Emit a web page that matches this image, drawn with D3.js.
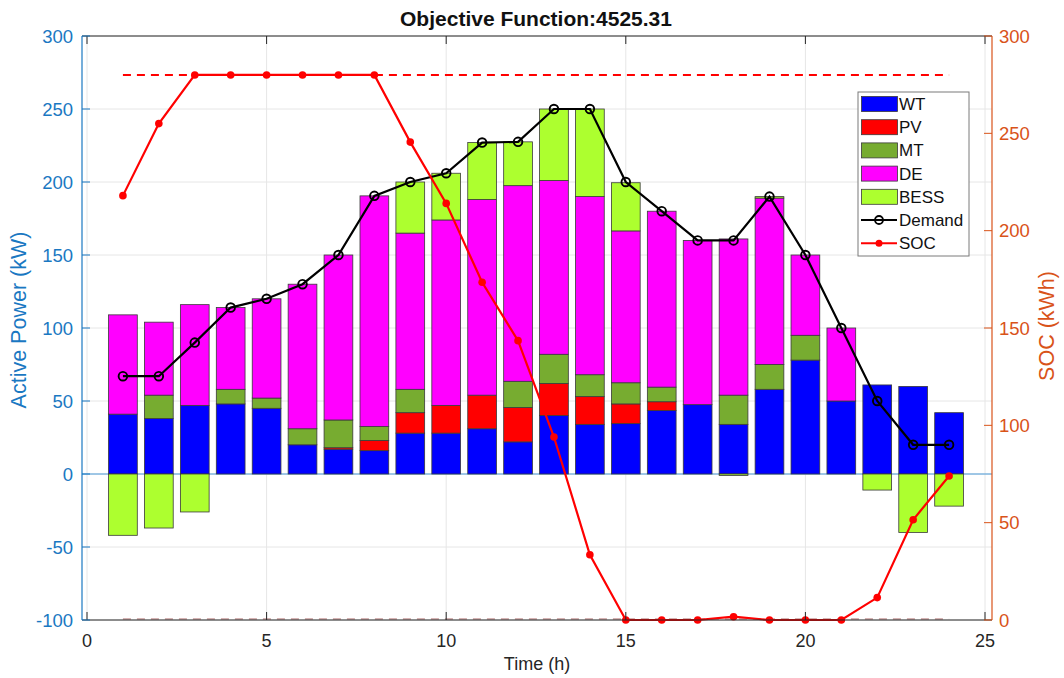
<!DOCTYPE html>
<html>
<head>
<meta charset="utf-8">
<script src="https://cdn.jsdelivr.net/npm/d3@7"></script>
<style>
  html, body { margin: 0; padding: 0; background: #ffffff; }
  svg { display: block; font-family: "Liberation Sans", Arial, Helvetica, sans-serif; }
</style>
</head>
<body>
<svg id="chart" width="1064" height="678"></svg>
<script>
// ---- data ----
const hours  = [1,2,3,4,5,6,7,8,9,10,11,12,13,14,15,16,17,18,19,20,21,22,23,24];
const WT     = [41,38,47,48,45,20,17,16,28,28,31,22,40,34,34.5,43.5,47.5,34,58,78,50,61,60,42];
const PV     = [0,0,0,0,0,0,1,7,14,19,23,23.5,22,19,13.5,6,0,0,0,0,0,0,0,0];
const MT     = [0,16,0,10,7,11,19,9.5,16,0,0,18,20,15,14.5,10,0,20,17,17,0,0,0,0];
const DE     = [68,50,69,56,68,99,113,158,107,127,134,134,119,122,104,120.5,112.5,107,114,55,50,0,0,0];
const BESS   = [-42,-37,-26,0,0,0,0,0,35,32,39,30,49,60,33,0,0,-1,1,0,0,-11,-40,-22];
const demand = [67,67,90,114,120,130,150,190.5,200,206,227,227.5,250,250,200,180,160,160,190,150,100,50,20,20];
const SOC    = [218,255,280,280,280,280,280,280,245.5,214,173.5,143.5,94,33.5,0,0,0,1.7,0,0,0,11.5,51.5,74];
const socMax = 280, socMin = 0;
const seriesNames = ["WT","PV","MT","DE","BESS"];
const seriesColors = ["#0000FF","#FF0000","#77AC30","#FF00FF","#ADFF2F"];
const xTicks = [0,5,10,15,20,25];
const yLeftTicks = [-100,-50,0,50,100,150,200,250,300];
const yRightTicks = [0,50,100,150,200,250,300];
const titleText = "Objective Function:4525.31";

// ---- layout ----
const svg = d3.select("#chart");
const L = 82, R = 992, T = 36, B = 620;
const x = d3.scaleLinear().domain([0,25]).range([87,985]);
const yL = d3.scaleLinear().domain([-100,300]).range([B,T]);
const yR = d3.scaleLinear().domain([0,300]).range([B,T]);
const blue = "#1a78c2", orange = "#D95319", dark = "#262626";

// grid
const g = svg.append("g");
g.selectAll(".vg").data(xTicks).enter().append("line")
  .attr("x1", d=>x(d)).attr("x2", d=>x(d)).attr("y1", T).attr("y2", B)
  .attr("stroke", "#e6e6e6").attr("stroke-width", 1);
g.selectAll(".hg").data(yLeftTicks).enter().append("line")
  .attr("x1", L).attr("x2", R).attr("y1", d=>yL(d)).attr("y2", d=>yL(d))
  .attr("stroke", "#e6e6e6").attr("stroke-width", 1);

// zero baseline
g.append("line").attr("x1", L).attr("x2", R).attr("y1", yL(0)).attr("y2", yL(0))
  .attr("stroke", "#4a9ad8").attr("stroke-width", 1);

// bars
const bw = (x(0.8) - x(0));
const data = [WT, PV, MT, DE, BESS];
hours.forEach((h, i) => {
  let pos = 0, neg = 0;
  data.forEach((arr, k) => {
    const v = arr[i];
    if (v === 0) return;
    let y0, y1;
    if (v > 0) { y0 = pos; y1 = pos + v; pos = y1; }
    else { y0 = neg; y1 = neg + v; neg = y1; }
    g.append("rect")
      .attr("x", x(h) - bw/2)
      .attr("width", bw)
      .attr("y", yL(Math.max(y0,y1)))
      .attr("height", Math.abs(yL(y0) - yL(y1)))
      .attr("fill", seriesColors[k])
      .attr("stroke", "#3a3a3a").attr("stroke-width", 0.8);
  });
});

// SOC limit dashed lines
g.append("line").attr("x1", x(1)).attr("x2", x(24)).attr("y1", yR(socMax)).attr("y2", yR(socMax))
  .attr("stroke", "#FF0000").attr("stroke-width", 2).attr("stroke-dasharray", "8,6");
g.append("line").attr("x1", x(1)).attr("x2", x(24)).attr("y1", yR(socMin)-1).attr("y2", yR(socMin)-1)
  .attr("stroke", "#c79a9a").attr("stroke-width", 1.5).attr("stroke-dasharray", "8,6");

// demand line
const lineL = d3.line().x((d,i)=>x(hours[i])).y(d=>yL(d));
g.append("path").datum(demand).attr("d", lineL).attr("fill","none")
  .attr("stroke","#000").attr("stroke-width",2.2);
g.selectAll(".dm").data(demand).enter().append("circle")
  .attr("cx",(d,i)=>x(hours[i])).attr("cy",d=>yL(d)).attr("r",4.3)
  .attr("fill","none").attr("stroke","#000").attr("stroke-width",1.9);

// SOC line
const lineR = d3.line().x((d,i)=>x(hours[i])).y(d=>yR(d));
g.append("path").datum(SOC).attr("d", lineR).attr("fill","none")
  .attr("stroke","#FF0000").attr("stroke-width",2.2);
g.selectAll(".sm").data(SOC).enter().append("circle")
  .attr("cx",(d,i)=>x(hours[i])).attr("cy",d=>yR(d)).attr("r",3.8)
  .attr("fill","#FF0000");

// axes frame
svg.append("line").attr("x1",L).attr("x2",R).attr("y1",T).attr("y2",T).attr("stroke",dark).attr("stroke-width",1);
svg.append("line").attr("x1",L).attr("x2",R).attr("y1",B).attr("y2",B).attr("stroke",dark).attr("stroke-width",1);
svg.append("line").attr("x1",L).attr("x2",L).attr("y1",T).attr("y2",B).attr("stroke",blue).attr("stroke-width",1.2);
svg.append("line").attr("x1",R).attr("x2",R).attr("y1",T).attr("y2",B).attr("stroke",orange).attr("stroke-width",1.2);

// x ticks
const xa = svg.append("g");
xTicks.forEach(t => {
  xa.append("line").attr("x1",x(t)).attr("x2",x(t)).attr("y1",B).attr("y2",B-8).attr("stroke",dark);
  xa.append("line").attr("x1",x(t)).attr("x2",x(t)).attr("y1",T).attr("y2",T+8).attr("stroke",dark);
  xa.append("text").attr("x",x(t)).attr("y",B+27).attr("text-anchor","middle")
    .attr("font-size",18).attr("fill",dark).text(t);
});
// left ticks
yLeftTicks.forEach(t => {
  svg.append("line").attr("x1",L).attr("x2",L+8).attr("y1",yL(t)).attr("y2",yL(t)).attr("stroke",blue);
  svg.append("text").attr("x",L-9).attr("y",yL(t)+6.5).attr("text-anchor","end")
    .attr("font-size",18.5).attr("fill",blue).text(t);
});
// right ticks
yRightTicks.forEach(t => {
  svg.append("line").attr("x1",R).attr("x2",R-8).attr("y1",yR(t)).attr("y2",yR(t)).attr("stroke",orange);
  svg.append("text").attr("x",R+7).attr("y",yR(t)+6.5).attr("text-anchor","start")
    .attr("font-size",18.5).attr("fill",orange).text(t);
});

// labels
svg.append("text").attr("x",536).attr("y",26).attr("text-anchor","middle")
  .attr("font-size",21).attr("font-weight","bold").attr("fill","#111").text(titleText);
svg.append("text").attr("x",537).attr("y",670).attr("text-anchor","middle")
  .attr("font-size",18).attr("fill",dark).text("Time (h)");
svg.append("text").attr("transform","translate(26,320) rotate(-90)").attr("text-anchor","middle")
  .attr("font-size",21.5).attr("fill",blue).text("Active Power (kW)");
svg.append("text").attr("transform","translate(1054,326) rotate(-90)").attr("text-anchor","middle")
  .attr("font-size",21.5).attr("fill",orange).text("SOC (kWh)");

// legend
const lg = svg.append("g").attr("transform","translate(858,92)");
lg.append("rect").attr("width",111).attr("height",164).attr("fill","#fff").attr("stroke","#7a7a7a").attr("stroke-width",1);
const rowY = i => 12 + i*23.2;
seriesNames.forEach((n,i) => {
  lg.append("rect").attr("x",3.5).attr("y",rowY(i)-7.5).attr("width",36).attr("height",15)
    .attr("fill",seriesColors[i]).attr("stroke","#3a3a3a").attr("stroke-width",0.8);
  lg.append("text").attr("x",41).attr("y",rowY(i)+6).attr("font-size",17).attr("fill","#111").text(n);
});
const li = 5;
lg.append("line").attr("x1",3).attr("x2",39).attr("y1",rowY(li)).attr("y2",rowY(li)).attr("stroke","#000").attr("stroke-width",2);
lg.append("circle").attr("cx",21).attr("cy",rowY(li)).attr("r",4).attr("fill","none").attr("stroke","#000").attr("stroke-width",1.8);
lg.append("text").attr("x",41).attr("y",rowY(li)+6).attr("font-size",17).attr("fill","#111").text("Demand");
lg.append("line").attr("x1",3).attr("x2",39).attr("y1",rowY(6)).attr("y2",rowY(6)).attr("stroke","#FF0000").attr("stroke-width",2);
lg.append("circle").attr("cx",21).attr("cy",rowY(6)).attr("r",3.5).attr("fill","#FF0000");
lg.append("text").attr("x",41).attr("y",rowY(6)+6).attr("font-size",17).attr("fill","#111").text("SOC");
</script>
</body>
</html>
